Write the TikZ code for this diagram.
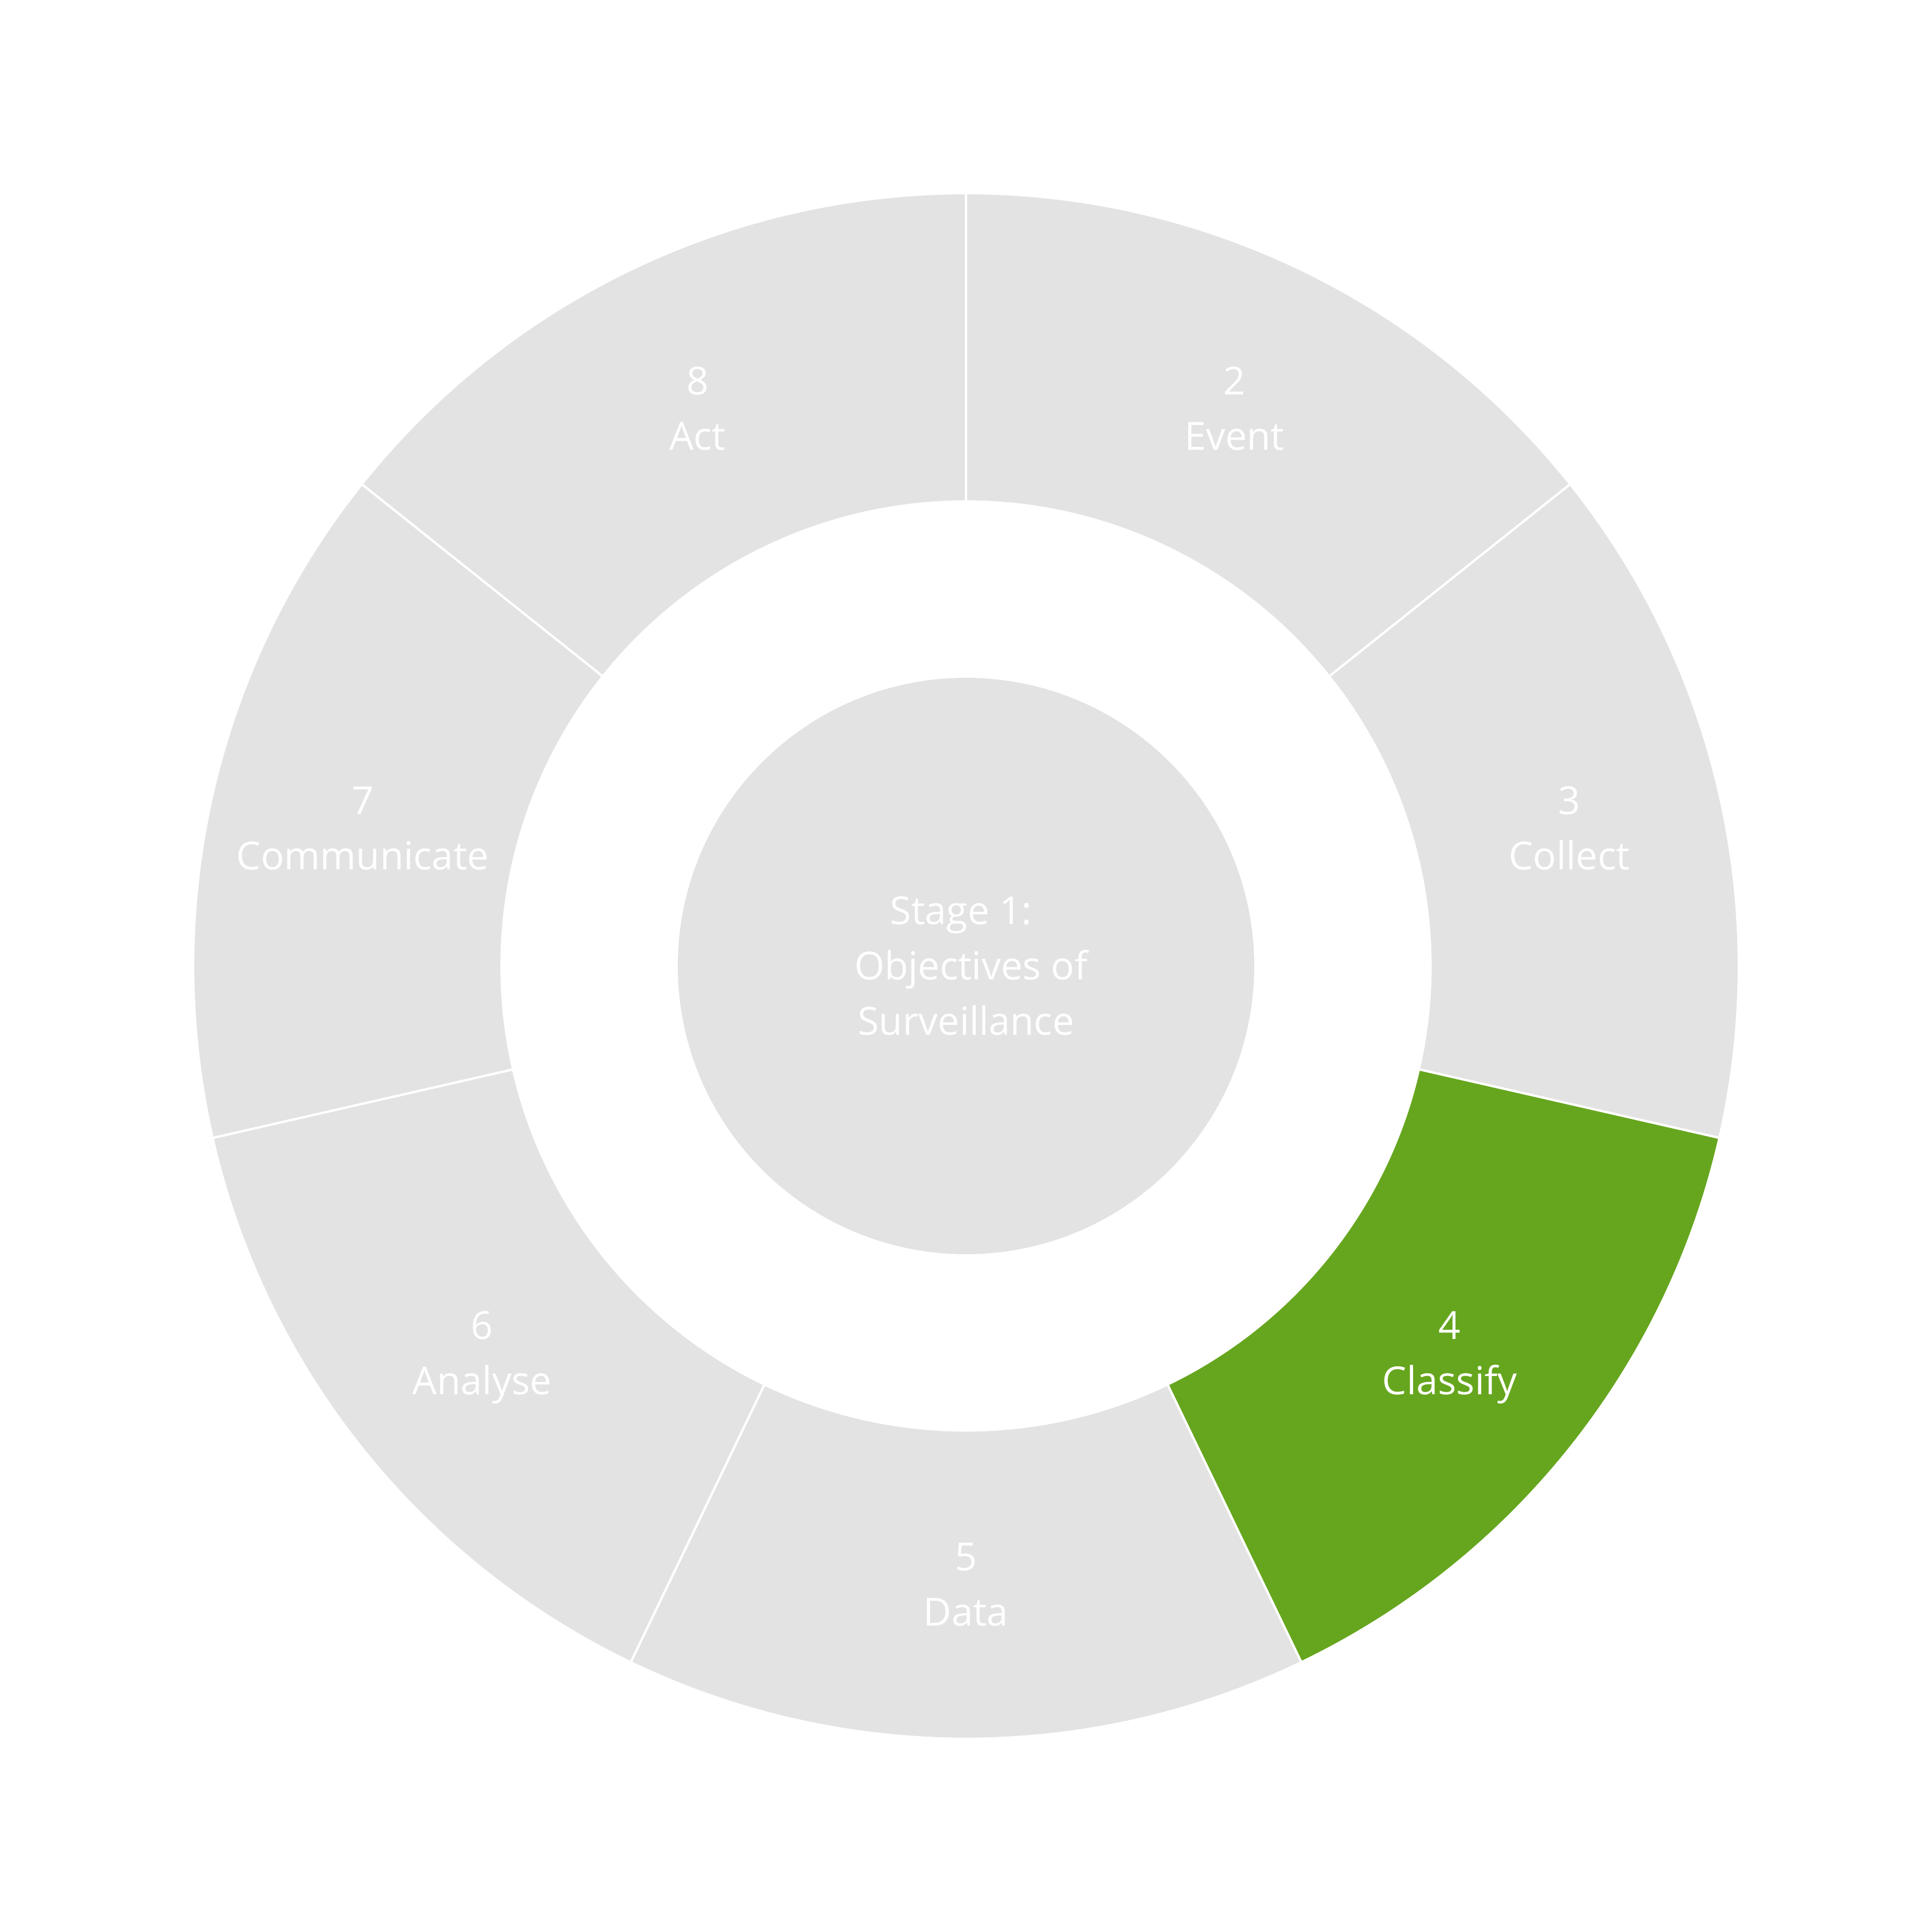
\documentclass[tikz,border=0pt]{standalone}
\usepackage{fontspec}
\setmainfont{Open Sans}
\definecolor{segGray}{HTML}{E3E3E3}
\definecolor{segGreen}{HTML}{66A61E}
\tikzset{
  sector/.style={draw=white, line width=1.2pt, line join=miter},
  seglabel/.style={text=white, align=center, font=\fontsize{20.5}{29.3}\selectfont, inner sep=0pt},
}
\newcommand{\mysector}[3]{% start angle, end angle, colour
  \filldraw[sector, fill=#3] (#1:14.40) arc[start angle=#1, end angle=#2, radius=14.40cm]
    -- (#2:8.656) arc[start angle=#2, end angle=#1, radius=8.656cm] -- cycle;
}
\begin{document}
\begin{tikzpicture}
\useasboundingbox (-18,-18) rectangle (18,18);
\pgfmathsetmacro{\st}{360/7}
\foreach \k/\col in {0/segGray,1/segGray,2/segGreen,3/segGray,4/segGray,5/segGray,6/segGray}{
  \pgfmathsetmacro{\aA}{90-\k*\st}
  \pgfmathsetmacro{\aB}{90-(\k+1)*\st}
  \mysector{\aA}{\aB}{\col}
}
\node[seglabel] (l2) at ({90-0.5*\st}:11.53) {2\\Event};
\node[seglabel] (l3) at ({90-1.5*\st}:11.53) {3\\Collect};
\node[seglabel, yshift=-0.11cm] (l4) at ({90-2.5*\st}:11.53) {4\\Classify};
\node[seglabel] (l5) at ({90-3.5*\st}:11.53) {5\\Data};
\node[seglabel, yshift=-0.11cm] (l6) at ({90-4.5*\st}:11.53) {6\\Analyse};
\node[seglabel] (l7) at ({90-5.5*\st}:11.53) {7\\Communicate};
\node[seglabel] (l8) at ({90-6.5*\st}:11.53) {8\\Act};
\node[circle, fill=segGray, minimum size=10.74cm, inner sep=0pt] (stage) at (0,0) {};
\node[seglabel] (stagetext) at (stage.center) {Stage 1:\phantom{\ }\\\phantom{\ }Objectives of\\Surveillance};
\end{tikzpicture}
\end{document}
